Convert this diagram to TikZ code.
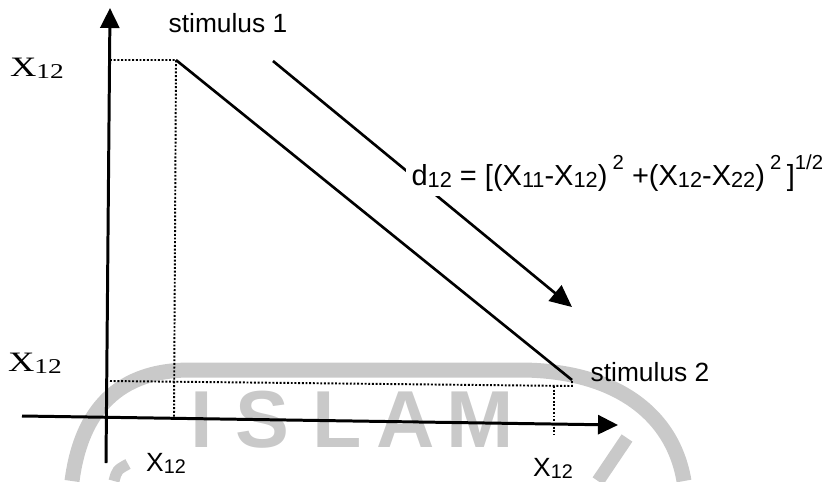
\documentclass[tikz,border=0pt]{standalone}
\usepackage{fontspec}
\setmainfont{Liberation Sans}
\newfontfamily\serifX{Liberation Serif}
\usetikzlibrary{arrows.meta}
\newcommand{\lo}[1]{\raisebox{-0.15ex}{\scalebox{0.75}{#1}}}
\newcommand{\hi}[1]{\raisebox{1.0ex}{\scalebox{0.7}{#1}}}

\begin{document}
\begin{tikzpicture}[x=0.02cm, y=-0.02cm,
      every node/.style={font=\fontsize{15}{17}\selectfont, inner sep=1pt},
      axis/.style={line width=1.7pt, -{Triangle[length=0.4cm, width=0.38cm]}},
      guide/.style={densely dotted, line width=1.1pt},
      wmark/.style={black!21}]
    \useasboundingbox (0,0) rectangle (832,481);
    % watermark behind the plot
    \draw[wmark, line width=0.3cm]
          (72,481) .. controls (80,420) and (110,370) .. (190,370)
          -- (520,370) .. controls (610,370) and (672,410) .. (684,481);
    \draw[wmark, line width=0.26cm] (627,438) -- (598,481);
    \draw[wmark, line width=0.22cm] (128,464) .. controls (117,470) .. (114,481);
    \foreach \ch/\xx in {I/202, S/262, L/337, A/406, M/480}
      \node[wmark, font=\fontsize{46}{50}\selectfont\bfseries]
            (w\ch) at (\xx,420) {\ch};

    % points and axis ends
    \coordinate (S1) at (176,60);
    \coordinate (S2) at (572,380);
    \coordinate (ytop) at (110,8);
    \coordinate (ybot) at (106,463);
    \coordinate (xleft) at (22,416);
    \coordinate (xright) at (618,425);
    \coordinate (yS1) at (110,60);
    \coordinate (yS2) at (110,381);
    \coordinate (xS1) at (174,418);
    \coordinate (xS2a) at (554,386);
    \coordinate (xS2b) at (554,434);
    \coordinate (a1) at (273,61);
    \coordinate (a2) at (572,307);

    % dotted guides
    \draw[guide] (yS1) -- (S1) -- (xS1);
    \draw[guide] (yS2) -- (S2 |- xS2a) -- (S2);
    \draw[guide] (xS2a) -- (xS2b);

    % axes
    \draw[axis] (ybot) -- (ytop);
    \draw[axis] (xleft) -- (xright);

    % distance line and arrow
    \draw[line width=1.5pt] (S1) -- (S2);
    \draw[line width=1.5pt, -{Triangle[length=0.44cm, width=0.4cm]}] (a1) -- (a2);

    % labels
    \node (lS1) at (228,23) {stimulus 1};
    \node (lS2) at (650,372) {stimulus 2};
    \node[font=\fontsize{16}{18}\selectfont] (yl1) at (37,68)
          {\serifX\scalebox{1.3}[1]{X\lo{12}}};
    \node[font=\fontsize{16}{18}\selectfont] (yl2) at (35,363)
          {\serifX\scalebox{1.3}[1]{X\lo{12}}};
    \node (xl1) at (166,463) {X\lo{12}};
    \node (xl2) at (553,468) {X\lo{12}};
    \node[fill=white, anchor=west, inner sep=3pt,
          font=\fontsize{16.5}{19}\selectfont] (dist) at (406,173)
          {d\lo{12} = [(X\lo{11}-X\lo{12})\hspace{3pt}\hi{2}
           +(X\lo{12}-X\lo{22})\hspace{3pt}\hi{2}\hspace{3pt}]\hi{1/2}};
\end{tikzpicture}
\end{document}
